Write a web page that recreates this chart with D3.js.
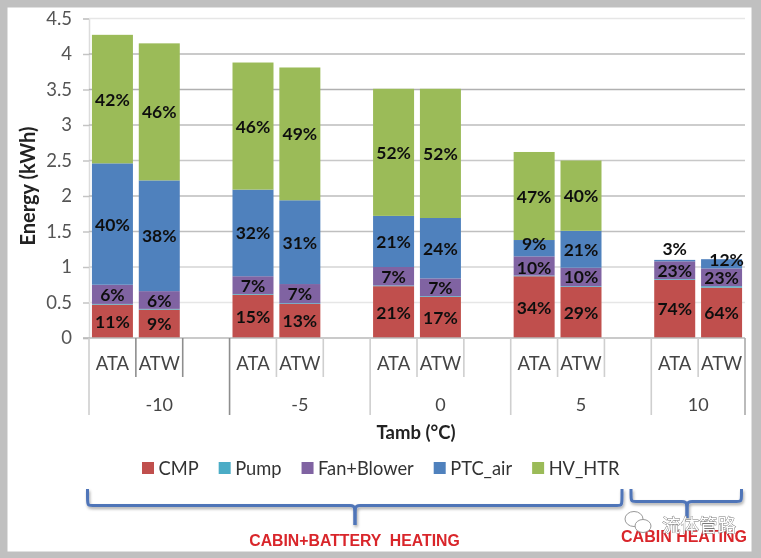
<!DOCTYPE html>
<html><head><meta charset="utf-8">
<script src="https://cdn.jsdelivr.net/npm/d3@7"></script>
<style>html,body{margin:0;padding:0;background:#c0c0c0}svg{display:block}</style>
</head><body><svg id="c" width="761" height="558"></svg>
<script>
const groups = ["-10","-5","0","5","10"];
const systems = ["ATA","ATW"];
const seriesNames = ["CMP","Pump","Fan+Blower","PTC_air","HV_HTR"];
const seriesColors = ["#c0504d","#4bacc6","#8064a2","#4f81bd","#9bbb59"];
const yTicks = [0,0.5,1,1.5,2,2.5,3,3.5,4,4.5];
// order: -10 ATA, -10 ATW, -5 ATA, ... 10 ATW
const CMP    = [0.47,0.40,0.61,0.48,0.73,0.58,0.87,0.72,0.82,0.71];
const Pump   = [0.01,0.01,0.01,0.01,0.01,0.01,0.01,0.01,0.01,0.02];
const Fan    = [0.27,0.25,0.25,0.27,0.26,0.25,0.27,0.26,0.25,0.25];
const PTC    = [1.71,1.56,1.22,1.18,0.72,0.85,0.23,0.52,0.02,0.13];
const HV     = [1.81,1.93,1.79,1.87,1.79,1.82,1.24,0.99,0,0];
const pctCMP  = ["11%","9%","15%","13%","21%","17%","34%","29%","74%","64%"];
const pctFan  = ["6%","6%","7%","7%","7%","7%","10%","10%","23%","23%"];
const pctPTC  = ["40%","38%","32%","31%","21%","24%","9%","21%","3%","12%"];
const pctHV   = ["42%","46%","46%","49%","52%","52%","47%","40%","",""];
const braceLabels = ["CABIN+BATTERY  HEATING","CABIN HEATING"];
const watermark = "流体管路";

const svg = d3.select("#c");
const defs = svg.append("defs");
defs.append("filter").attr("id","soft").attr("x",0).attr("y",0).attr("width","100%").attr("height","100%")
  .append("feGaussianBlur").attr("stdDeviation",0.75);
const sh = defs.append("filter").attr("id","shadow").attr("x","-5%").attr("y","-30%").attr("width","110%").attr("height","170%");
sh.append("feDropShadow").attr("dx",1).attr("dy",2).attr("stdDeviation",1.5).attr("flood-color","#000").attr("flood-opacity",0.35);

const root = svg.append("g").attr("filter","url(#soft)");
const FONT = "Lato, 'Open Sans', sans-serif";
root.append("rect").attr("width",761).attr("height",558).attr("fill","#c0c0c0");
root.append("rect").attr("x",7.5).attr("y",7.5).attr("width",744).attr("height",544).attr("fill","#fff");

// one slot per bar, plus a blank slot after each group except the last
const slots = [];
groups.forEach((g,gi)=>{
  systems.forEach(s=>slots.push(g+"|"+s));
  if(gi<groups.length-1) slots.push(g+"|");
});
const x = d3.scaleBand().domain(slots).range([89,745]).paddingInner(0.125).paddingOuter(0.0625);
const y = d3.scaleLinear().domain([0,4.5]).range([338,18.5]);
const step = x.step();
const slotLeft = k => x(k) - (step-x.bandwidth())/2;

// gridlines + y axis
const gridShade = d3.scaleOrdinal().domain(yTicks)
  .range(["#b8b8b8","#e6e6e6","#d4d4d4","#bfbfbf","#bdbdbd","#c8c8c8","#bcbcbc","#b0b0b0","#b8b8b8","#e6e6e6"]);
const yAxis = d3.axisLeft(y).tickValues(yTicks).tickFormat(d3.format("~g")).tickSize(6).tickPadding(11);
const ya = root.append("g").attr("transform","translate(89,0)").call(yAxis);
ya.selectAll("text").attr("font-family",FONT).attr("font-size",18.5).attr("fill","#555");
ya.selectAll("line").attr("stroke","#c4c4c4").attr("stroke-width",1.5);
ya.select(".domain").attr("stroke","#dcdcdc").attr("stroke-width",1.5);
root.append("g").selectAll("line").data(yTicks.filter(d=>d>0)).join("line")
  .attr("x1",89).attr("x2",745).attr("y1",d=>y(d)).attr("y2",d=>y(d))
  .attr("stroke",d=>gridShade(d)).attr("stroke-width",1.6);

// stacked bars
const barKeys = slots.filter(k=>!k.endsWith("|"));
const rows = barKeys.map((k,i)=>({k,CMP:CMP[i],Pump:Pump[i],"Fan+Blower":Fan[i],PTC_air:PTC[i],HV_HTR:HV[i]}));
const stack = d3.stack().keys(seriesNames)(rows);
root.append("g").selectAll("g").data(stack).join("g").attr("fill",(d,i)=>seriesColors[i])
  .selectAll("rect").data(d=>d).join("rect")
  .attr("x",d=>x(d.data.k)).attr("width",x.bandwidth())
  .attr("y",d=>y(d[1])).attr("height",d=>y(d[0])-y(d[1]));

// percentage labels
const labelSets = [[0,pctCMP],[2,pctFan],[3,pctPTC],[4,pctHV]];
const nudge = {"3:5|ATA":[0,-5],"3:10|ATA":[0,-12],"3:10|ATW":[5,-4],"2:5|ATA":[0,2]};
const lab = root.append("g").attr("font-family",FONT).attr("font-weight",700).attr("font-size",17.5)
  .attr("fill","#111").attr("text-anchor","middle").attr("dominant-baseline","central");
labelSets.forEach(([si,arr])=>{
  arr.forEach((t,i)=>{
    if(!t) return;
    const d = stack[si][i], key = d.data.k;
    const n = nudge[si+":"+key] || [0,0];
    lab.append("text").attr("x",x(key)+x.bandwidth()/2+n[0]).attr("y",(y(d[0])+y(d[1]))/2+n[1]).text(t);
  });
});

// multi-level category axis
const axisG = root.append("g");
axisG.append("line").attr("x1",83).attr("x2",745).attr("y1",338).attr("y2",338).attr("stroke","#b8b8b8").attr("stroke-width",1.5);
const y0 = y(0);
slots.forEach((k,i)=>{
  const isGroupStart = k.endsWith("|ATA");
  axisG.append("line").attr("x1",slotLeft(k)).attr("x2",slotLeft(k))
    .attr("y1",y0).attr("y2",y0+(isGroupStart?77:39))
    .attr("stroke",(i>0&&i<4)?"#8e8e8e":"#cfcfcf").attr("stroke-width",1.6);
});
axisG.append("line").attr("x1",745).attr("x2",745).attr("y1",y0).attr("y2",y0+77).attr("stroke","#aaa").attr("stroke-width",1.6);
barKeys.forEach(k=>{
  axisG.append("text").attr("x",x(k)+x.bandwidth()/2).attr("y",y0+25)
   .attr("text-anchor","middle").attr("dominant-baseline","central")
   .attr("font-family",FONT).attr("font-size",18.5).attr("fill","#444").text(k.split("|")[1]);
});
groups.forEach((g,gi)=>{
  const left = slotLeft(g+"|ATA");
  const right = gi<groups.length-1 ? slotLeft(groups[gi+1]+"|ATA") : 745;
  axisG.append("text").attr("x",(left+right)/2).attr("y",y0+66)
   .attr("text-anchor","middle").attr("dominant-baseline","central")
   .attr("font-family",FONT).attr("font-size",18).attr("fill","#444").text(g);
});

// titles
root.append("text").attr("transform","translate(27,186) rotate(-90)").attr("text-anchor","middle")
  .attr("dominant-baseline","central").attr("font-family",FONT).attr("font-weight",700).attr("font-size",20).attr("fill","#222").text("Energy (kWh)");
root.append("text").attr("x",416).attr("y",432).attr("text-anchor","middle").attr("dominant-baseline","central")
  .attr("font-family",FONT).attr("font-weight",700).attr("font-size",18.5).attr("fill","#222").text("Tamb (°C)");

// legend
let lx = 142;
const leg = root.append("g");
seriesNames.forEach((n,i)=>{
  leg.append("rect").attr("x",lx).attr("y",462).attr("width",12).attr("height",12).attr("fill",seriesColors[i]);
  const t = leg.append("text").attr("x",lx+16.5).attr("y",468).attr("dominant-baseline","central")
    .attr("font-family",FONT).attr("font-size",18.3).attr("fill","#333").text(n);
  lx += 16.5 + t.node().getComputedTextLength() + 20;
});

// braces
const line = d3.line().curve(d3.curveBasis);
function brace(x0,x1,xm,top,h,tip){
  const r=root.append("g").attr("filter","url(#shadow)").attr("fill","none").attr("stroke","#4f74b8").attr("stroke-width",3);
  r.append("path").attr("d",line([[x0,top],[x0,top],[x0,h-2],[x0+1,h],[x0+6,h],[x0+6,h],[xm-6,h],[xm-6,h],[xm-1,h],[xm,h+4],[xm,tip],[xm,tip]]));
  r.append("path").attr("d",line([[x1,top],[x1,top],[x1,h-2],[x1-1,h],[x1-6,h],[x1-6,h],[xm+6,h],[xm+6,h],[xm+1,h],[xm,h+4],[xm,tip],[xm,tip]]));
}
brace(87.5,622,355,489,505.5,525);
brace(631,741.5,687,489,501.5,518);

// red captions
root.append("text").attr("x",354.5).attr("y",540).attr("text-anchor","middle").attr("dominant-baseline","central")
  .attr("font-family","'Liberation Sans',Arial,sans-serif").attr("font-weight",700).attr("font-size",15.8).attr("fill","#d9262c")
  .style("white-space","pre").text(braceLabels[0]);
root.append("text").attr("x",684).attr("y",536).attr("text-anchor","middle").attr("dominant-baseline","central")
  .attr("font-family","'Liberation Sans',Arial,sans-serif").attr("font-weight",700).attr("font-size",16).attr("fill","#d9262c").text(braceLabels[1]);

// watermark
const wm = root.append("g");
wm.append("text").attr("x",662).attr("y",524).attr("dominant-baseline","central")
  .attr("font-family","'Noto Sans CJK SC'").attr("font-size",18.5).attr("fill","#fff").attr("stroke","#777").attr("stroke-width",0.8)
  .attr("paint-order","stroke").text(watermark);
const icon = wm.append("g").attr("fill","#fff").attr("stroke","#999").attr("stroke-width",1);
icon.append("ellipse").attr("cx",634).attr("cy",519).attr("rx",9).attr("ry",7.5);
icon.append("ellipse").attr("cx",643).attr("cy",526).attr("rx",8).attr("ry",6.5);
</script></body></html>
